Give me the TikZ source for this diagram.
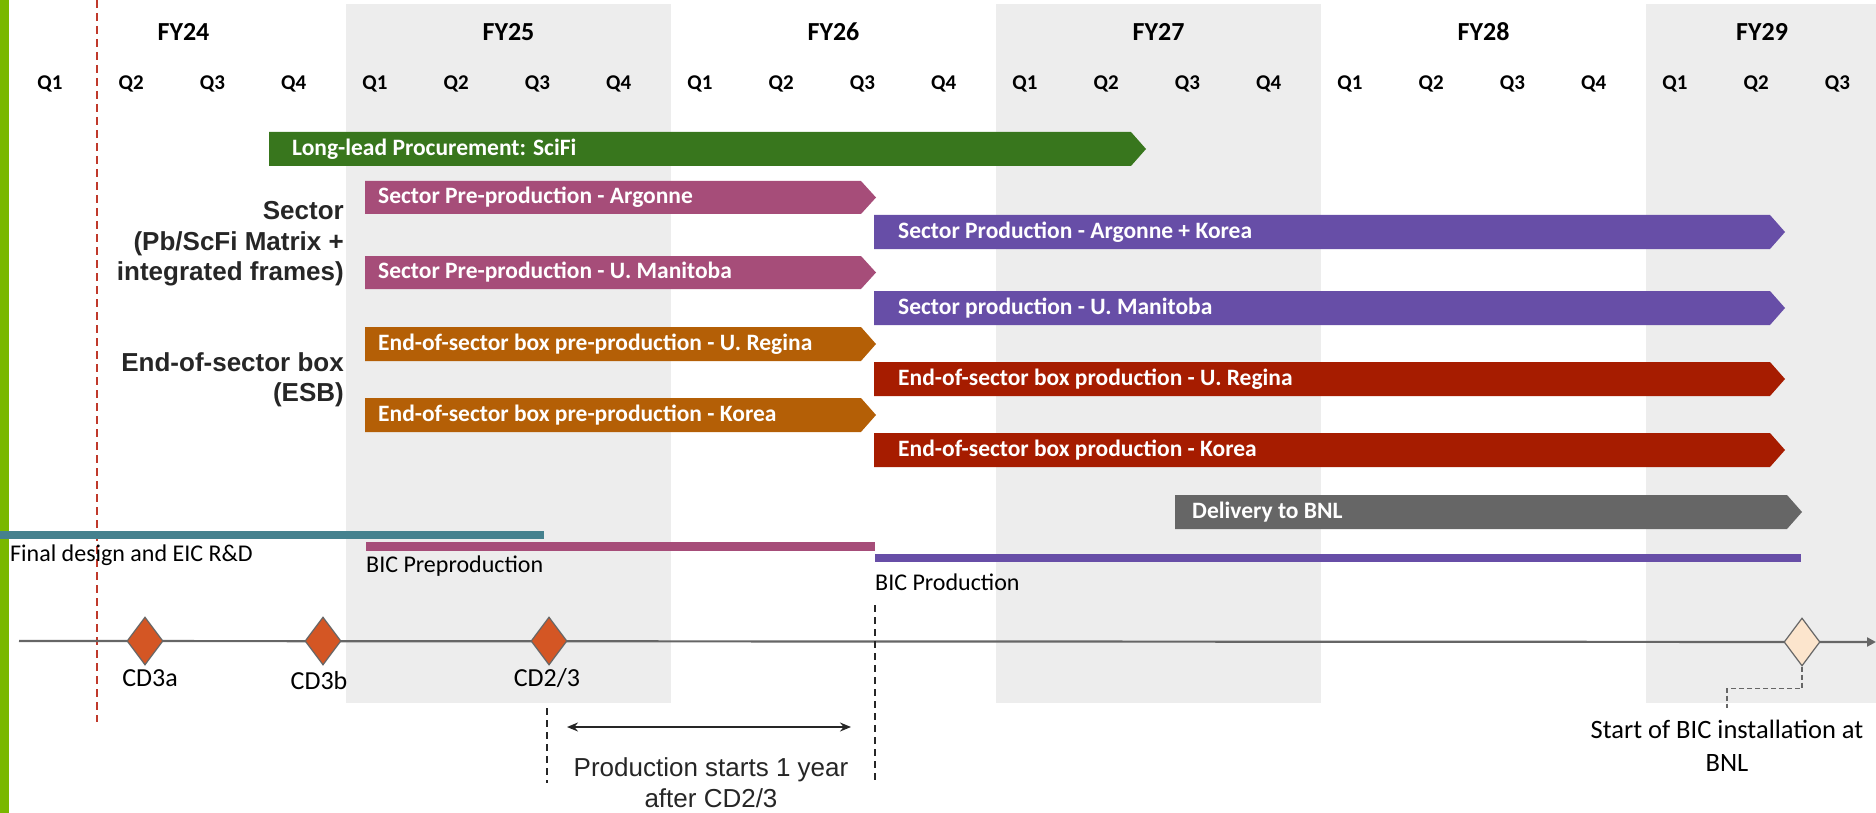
\documentclass[tikz,border=0pt]{standalone}
\usepackage{fontspec}
\setmainfont{Carlito}
\newfontfamily\arialf{Liberation Sans}
\usetikzlibrary{arrows.meta,shapes.geometric}
\definecolor{cgreen}{RGB}{56,118,29}
\definecolor{cpink}{RGB}{166,77,121}
\definecolor{cpurple}{RGB}{103,78,167}
\definecolor{corange}{RGB}{180,95,6}
\definecolor{cred}{RGB}{166,28,0}
\definecolor{cgray}{RGB}{102,102,102}
\definecolor{cteal}{RGB}{69,129,142}
\definecolor{cband}{RGB}{237,237,237}
\definecolor{cleft}{RGB}{122,184,0}
\definecolor{cdash}{RGB}{192,57,43}
\definecolor{cdia}{RGB}{212,86,36}
\definecolor{cpeach}{RGB}{252,229,205}
\definecolor{ctext}{RGB}{38,38,38}
\newcommand\chevbar[5]{% x0, xbody, y0, y1, color ; tip 15 px
  \fill[#5] (#1,#3) -- (#2,#3) -- ({#2+15},{(#3+#4)/2}) -- (#2,#4) -- (#1,#4) -- cycle;}
\tikzset{
  fy/.style={font=\bfseries\fontsize{26}{30}\selectfont, text=black, inner sep=0pt},
  qlbl/.style={font=\bfseries\fontsize{21}{24}\selectfont, text=black, inner sep=0pt},
  bartext/.style={font=\bfseries\fontsize{23.5}{26}\selectfont, text=white, anchor=west, inner sep=0pt},
  grp/.style={font=\arialf\bfseries\fontsize{26}{30.5}\selectfont, text=ctext, align=right, anchor=east, inner sep=0pt},
  phase/.style={font=\fontsize{24}{28}\selectfont, text=black, anchor=west, inner sep=0pt},
  mlbl/.style={font=\fontsize{26}{30}\selectfont, text=black, inner sep=0pt},
  milestone/.style={diamond, draw=cgray, line width=1.2pt, fill=cdia, minimum width=36pt, minimum height=48pt, inner sep=0pt},
  vdash/.style={draw=ctext, line width=1.3pt, dash pattern=on 7pt off 5pt},
}
\begin{document}
\begin{tikzpicture}[x=1pt,y=-1pt]
\useasboundingbox (0,0) rectangle (1876,813);
% grey year bands
\fill[cband] (346,4) rectangle (671,703);
\fill[cband] (996,4) rectangle (1321,703);
\fill[cband] (1646,4) rectangle (1876,703);
% green left bar
\fill[cleft] (0,0) rectangle (9,813);
% red dashed line (today)
\draw[cdash, line width=1.6pt, dash pattern=on 8pt off 5pt] (97,0) -- (97,722);
% year labels
\node[fy] (fy24) at (183.5,32) {FY24};
\node[fy] (fy25) at (508.5,32) {FY25};
\node[fy] (fy26) at (833.5,32) {FY26};
\node[fy] (fy27) at (1158.5,32) {FY27};
\node[fy] (fy28) at (1483.5,32) {FY28};
\node[fy] (fy29) at (1762,32) {FY29};
% quarter labels
\foreach \k in {0,...,4}{
  \foreach \q in {1,...,4}{
    \node[qlbl] (q\k\q) at ({21+325*\k+81.25*(\q-1)+29},84) {Q\q};
  }
}
\foreach \q in {1,2,3}{
  \node[qlbl] (q5\q) at ({1646+81.25*(\q-1)+29},84) {Q\q};
}
% group labels
\node[grp] (gsector) at (344,244) {Sector\\(Pb/ScFi Matrix +\\integrated frames)};
\node[grp] (gesb) at (344,380) {End-of-sector box\\(ESB)};
% bars
\chevbar{269}{1131}{132}{166}{cgreen}
\node[bartext] (b1) at (292,149) {Long-lead Procurement: SciFi};
\chevbar{365}{861}{181}{214}{cpink}
\node[bartext] (b2) at (378,197.5) {Sector Pre-production - Argonne};
\chevbar{365}{861}{256}{289}{cpink}
\node[bartext] (b3) at (378,272.5) {Sector Pre-production - U. Manitoba};
\chevbar{365}{861}{327}{361}{corange}
\node[bartext] (b4) at (378,344) {End-of-sector box pre-production - U. Regina};
\chevbar{365}{861}{398}{432}{corange}
\node[bartext] (b5) at (378,415) {End-of-sector box pre-production - Korea};
\chevbar{874}{1770}{215}{249}{cpurple}
\node[bartext] (b6) at (898,232) {Sector Production - Argonne + Korea};
\chevbar{874}{1770}{291}{325}{cpurple}
\node[bartext] (b7) at (898,308) {Sector production - U. Manitoba};
\chevbar{874}{1770}{362}{396}{cred}
\node[bartext] (b8) at (898,379) {End-of-sector box production - U. Regina};
\chevbar{874}{1770}{433}{467}{cred}
\node[bartext] (b9) at (898,450) {End-of-sector box production - Korea};
\chevbar{1175}{1787}{495}{529}{cgray}
\node[bartext] (b10) at (1192,512) {Delivery to BNL};
% phase lines
\fill[cteal] (0,531) rectangle (544,539);
\node[phase] (p1) at (10,555) {Final design and EIC R\&D};
\fill[cpink] (366,542) rectangle (875,551);
\node[phase] (p2) at (366,566) {BIC Preproduction};
\fill[cpurple] (875,554) rectangle (1801,562);
\node[phase] (p3) at (875,582) {BIC Production};
% timeline
\coordinate (tl0) at (19,641);
\coordinate (tl1) at (1876,642);
\draw[cgray, line width=2.2pt, -{Triangle[length=9pt,width=9pt]}] (tl0) -- (tl1);
% milestones
\node[milestone] (cd3a) at (145,641) {};
\node[milestone] (cd3b) at (323,641) {};
\node[milestone] (cd23) at (549,641) {};
\node[milestone, fill=cpeach] (inst) at (1802,642) {};
\node[mlbl] (lcd3a) at (150,678) {CD3a};
\node[mlbl] (lcd3b) at (319,681) {CD3b};
\node[mlbl] (lcd23) at (547,678) {CD2/3};
% production start markers
\coordinate (v1a) at (547,708);
\coordinate (v1b) at (547,783);
\draw[vdash] (v1a) -- (v1b);
\coordinate (v2a) at (875,605);
\coordinate (v2b) at (875,780);
\draw[vdash] (v2a) -- (v2b);
\coordinate (da) at (567,727);
\coordinate (db) at (851,727);
\draw[ctext, line width=1.8pt, {Stealth[length=11pt,width=9pt]}-{Stealth[length=11pt,width=9pt]}] (da) -- (db);
\node[font=\arialf\fontsize{26}{31}\selectfont, text=ctext, align=center, inner sep=0pt] (prodtxt) at (711,783) {Production starts 1 year\\after CD2/3};
% installation label
\node[font=\fontsize{26.5}{33}\selectfont, text=black, align=center, inner sep=0pt] (instlbl) at (1727,746) {Start of BIC installation at\\BNL};
\coordinate (ic) at (1727,708);
\draw[cgray, line width=1.5pt, dash pattern=on 5pt off 3pt] (inst.south) -- ++(0,22) -| (ic);
\end{tikzpicture}
\end{document}
